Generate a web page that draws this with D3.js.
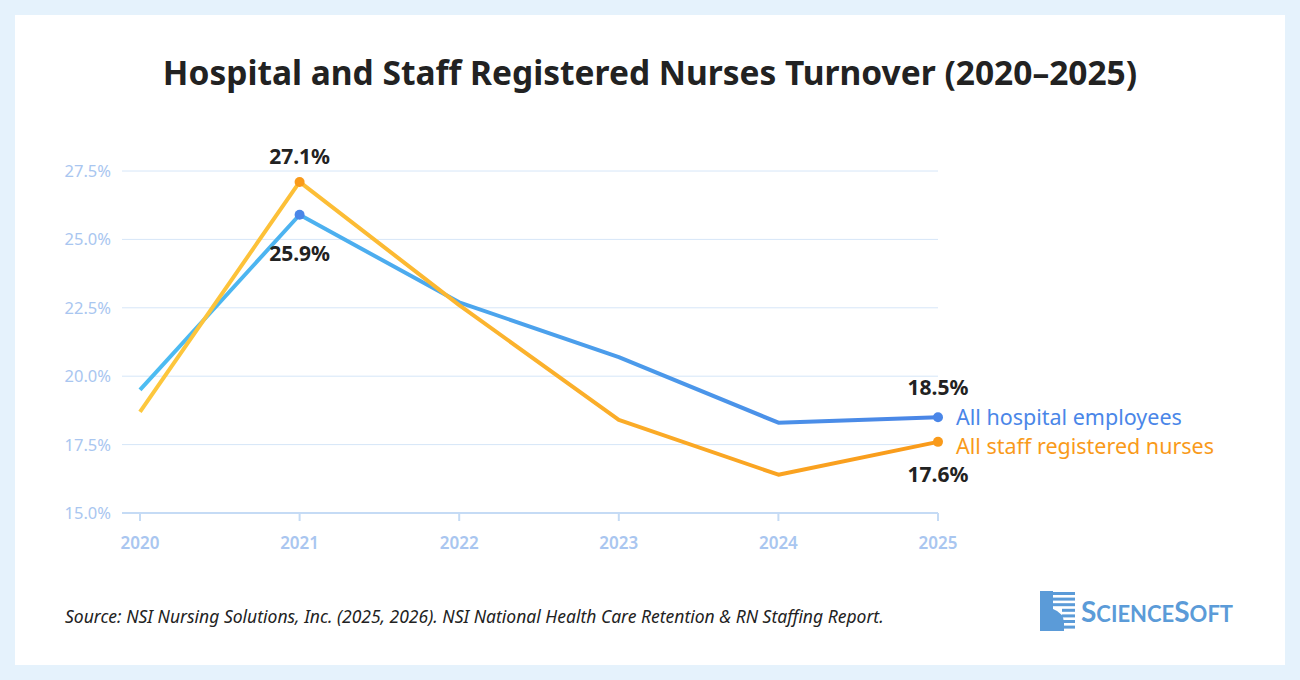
<!DOCTYPE html>
<html><head><meta charset="utf-8">
<script src="https://cdn.jsdelivr.net/npm/d3@7"></script>
<style>body{margin:0;background:#e5f2fc;font-family:"Noto Sans",sans-serif}</style>
</head><body><svg id="c"></svg>
<script>
const width = 1300, height = 680;
const years = [2020, 2021, 2022, 2023, 2024, 2025];
const hospital = [19.5, 25.9, 22.7, 20.7, 18.3, 18.5];
const nurses = [18.7, 27.1, 22.6, 18.4, 16.4, 17.6];
const yTicks = [15, 17.5, 20, 22.5, 25, 27.5];

const svg = d3.select("#c").attr("width", width).attr("height", height);
const defs = svg.append("defs");
function grad(id, a, b) {
  const g = defs.append("linearGradient").attr("id", id)
    .attr("gradientUnits", "userSpaceOnUse").attr("x1", 140).attr("x2", 938).attr("y1", 0).attr("y2", 0);
  g.append("stop").attr("offset", 0).attr("stop-color", a);
  g.append("stop").attr("offset", 1).attr("stop-color", b);
}
grad("gBlue", "#4dbdf2", "#4a85e6");
grad("gOrange", "#fdc83e", "#f99a1a");

svg.append("rect").attr("x", 15).attr("y", 15).attr("width", 1270).attr("height", 650).attr("fill", "#fff");

svg.append("text").attr("x", 650).attr("y", 85).attr("text-anchor", "middle")
  .attr("font-size", 33.5).attr("font-weight", 700).attr("fill", "#222")
  .text("Hospital and Staff Registered Nurses Turnover (2020–2025)");

const x = d3.scaleLinear([2020, 2025], [140, 938]);
const y = d3.scaleLinear([15, 27.5], [513, 171]);

// grid
svg.append("g").selectAll("line").data(yTicks).join("line")
  .attr("x1", 122).attr("x2", 938).attr("y1", y).attr("y2", y)
  .attr("stroke", d => d === 15 ? "#c5dbf5" : "#d6e6f8").attr("stroke-width", d => d === 15 ? 2 : 1);
svg.append("g").selectAll("text").data(yTicks).join("text")
  .attr("x", 111).attr("y", d => y(d) + 6).attr("text-anchor", "end")
  .attr("font-size", 16.5).attr("fill", "#a9c6f0").text(d => d.toFixed(1) + "%");
svg.append("g").selectAll("line").data(years).join("line")
  .attr("x1", x).attr("x2", x).attr("y1", 513).attr("y2", 521).attr("stroke", "#c5dbf5").attr("stroke-width", 2);
svg.append("g").selectAll("text").data(years).join("text")
  .attr("x", x).attr("y", 549).attr("text-anchor", "middle")
  .attr("font-size", 17).attr("font-weight", 600).attr("fill", "#a9c6f0").text(d => d);

const line = d3.line().x((d, i) => x(years[i])).y(d => y(d));
svg.append("path").datum(hospital).attr("d", line).attr("fill", "none")
  .attr("stroke", "url(#gBlue)").attr("stroke-width", 4).attr("stroke-linejoin", "round");
svg.append("path").datum(nurses).attr("d", line).attr("fill", "none")
  .attr("stroke", "url(#gOrange)").attr("stroke-width", 4).attr("stroke-linejoin", "round");

function dot(i, v, c) {
  svg.append("circle").attr("cx", x(years[i])).attr("cy", y(v)).attr("r", 5).attr("fill", c);
}
dot(1, hospital[1], "#4a86e8"); dot(5, hospital[5], "#4a86e8");
dot(1, nurses[1], "#f99a1a"); dot(5, nurses[5], "#f99a1a");

function lbl(xx, yy, t) {
  svg.append("text").attr("x", xx).attr("y", yy).attr("text-anchor", "middle")
    .attr("font-size", 21).attr("font-weight", 700).attr("fill", "#222").text(t);
}
lbl(x(2021), y(nurses[1]) - 18, nurses[1].toFixed(1) + "%");
lbl(x(2021), y(hospital[1]) + 46, hospital[1].toFixed(1) + "%");
lbl(x(2025), y(hospital[5]) - 22, hospital[5].toFixed(1) + "%");
lbl(x(2025), y(nurses[5]) + 40, nurses[5].toFixed(1) + "%");

svg.append("text").attr("x", 956).attr("y", y(hospital[5]) + 8).attr("font-size", 21.5)
  .attr("fill", "#4a86e8").text("All hospital employees");
svg.append("text").attr("x", 956).attr("y", y(nurses[5]) + 12).attr("font-size", 21.5)
  .attr("fill", "#f99a1a").text("All staff registered nurses");

svg.append("text").attr("x", 65).attr("y", 623).attr("font-size", 17.5).attr("font-style", "italic")
  .attr("fill", "#222").text("Source: NSI Nursing Solutions, Inc. (2025, 2026). NSI National Health Care Retention & RN Staffing Report.");

// logo
const lg = svg.append("g").attr("transform", "translate(1040,591)");
lg.append("path").attr("d", "M0,0 H13 V18 Q24,22 24,32 V40 H0 Z").attr("fill", "#5b9bd8");
for (let i = 0; i < 7; i++) {
  lg.append("rect").attr("x", i < 3 ? 13 : 22).attr("y", 1 + i * 5.6).attr("width", i < 3 ? 22 : 13).attr("height", 3).attr("fill", "#5b9bd8");
}
lg.append("text").attr("x", 41).attr("y", 31).attr("font-size", 28).attr("font-weight", 700)
  .attr("fill", "#5b9bd8").attr("font-family", "Lato, sans-serif")
  .html('S<tspan font-size="22">CIENCE</tspan>S<tspan font-size="22">OFT</tspan>');
</script></body></html>
